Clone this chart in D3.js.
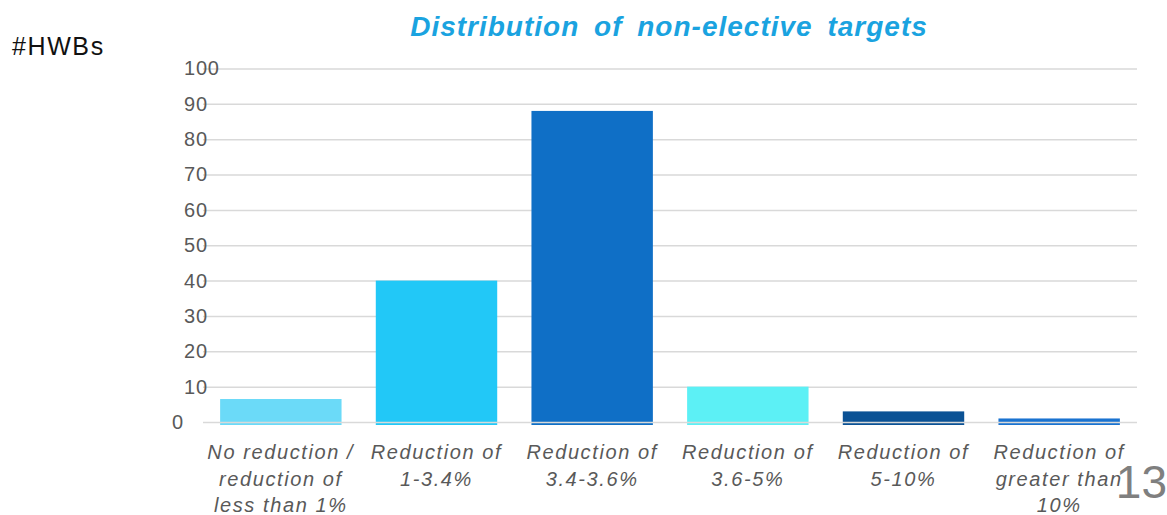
<!DOCTYPE html>
<html><head><meta charset="utf-8">
<script src="https://cdn.jsdelivr.net/npm/d3@7"></script>
<style>
html,body{margin:0;padding:0;background:#fff;}
svg{display:block;font-family:"Liberation Sans",Arial,sans-serif;}
</style></head>
<body>
<svg id="c" width="1167" height="515"></svg>
<script>
const categories = [
  ["No reduction /","reduction of","less than 1%"],
  ["Reduction of","1-3.4%"],
  ["Reduction of","3.4-3.6%"],
  ["Reduction of","3.6-5%"],
  ["Reduction of","5-10%"],
  ["Reduction of","greater than","10%"]
];
const values = [6.5, 40, 88, 10, 3, 1];
const barColors = ["#6bdaf8","#22c8f7","#0f6fc6","#5cf0f5","#0b5295","#1a73d0"];
const yTicks = [0,10,20,30,40,50,60,70,80,90,100];
const title = "Distribution of non-elective targets";
const yLabel = "#HWBs";
const pageNum = "13";

const svg = d3.select("#c");
const m = {left:203, right:1137, top:68.5, bottom:422};
const x = d3.scaleBand().domain(d3.range(categories.length)).range([m.left, m.right]).paddingInner(0.22).paddingOuter(0.11);
const y = d3.scaleLinear().domain([0,100]).range([m.bottom, m.top]);

const gridBehind = svg.append("g").attr("transform",`translate(${m.left},0)`);
const barsG = svg.append("g");
const gy = svg.append("g").attr("transform",`translate(${m.left},0)`);

// bars (with slight drop below baseline)
barsG.selectAll("rect").data(values).join("rect")
  .attr("x",(d,i)=>x(i)).attr("width",x.bandwidth())
  .attr("y",d=>y(d)).attr("height",d=>y(0)-y(d)+3)
  .attr("fill",(d,i)=>barColors[i]);

const yAxis = d3.axisLeft(y).tickValues(yTicks).tickSize(-(m.right-m.left)).tickPadding(19);
gy.call(yAxis);
gy.select(".domain").remove();
gy.selectAll(".tick line").attr("stroke","#d9d9d9").attr("stroke-width",1.5);
gy.selectAll(".tick text").attr("fill","#595959").attr("font-size","20px").attr("letter-spacing","0.8px")
  .attr("font-family","'Liberation Sans',Arial,sans-serif");
// gridlines behind bars, except baseline
gy.selectAll(".tick").filter(d=>d!==0).each(function(){ gridBehind.node().appendChild(this); });

// x labels
const xl = svg.append("g");
categories.forEach((lines,i)=>{
  const cx = x(i)+x.bandwidth()/2;
  const t = xl.append("text").attr("x",cx).attr("y",459)
    .attr("text-anchor","middle").attr("font-style","italic").attr("font-size","20px")
    .attr("letter-spacing","1.6px").attr("fill","#595959");
  lines.forEach((l,j)=>t.append("tspan").attr("x",cx).attr("dy",j?26.5:0).text(l));
});

svg.append("text").attr("x",669).attr("y",36).attr("text-anchor","middle")
  .attr("font-size","28px").attr("font-weight","bold").attr("font-style","italic")
  .attr("letter-spacing","1px").attr("word-spacing","6px")
  .attr("fill","#1aa3e0").text(title);
svg.append("text").attr("x",12).attr("y",55).attr("font-size","25px").attr("letter-spacing","1.6px")
  .attr("fill","#111").text(yLabel);
svg.append("text").attr("x",1167).attr("y",498).attr("text-anchor","end").attr("font-size","46px")
  .attr("fill","#7f7f7f").text(pageNum);
</script>
</body></html>
